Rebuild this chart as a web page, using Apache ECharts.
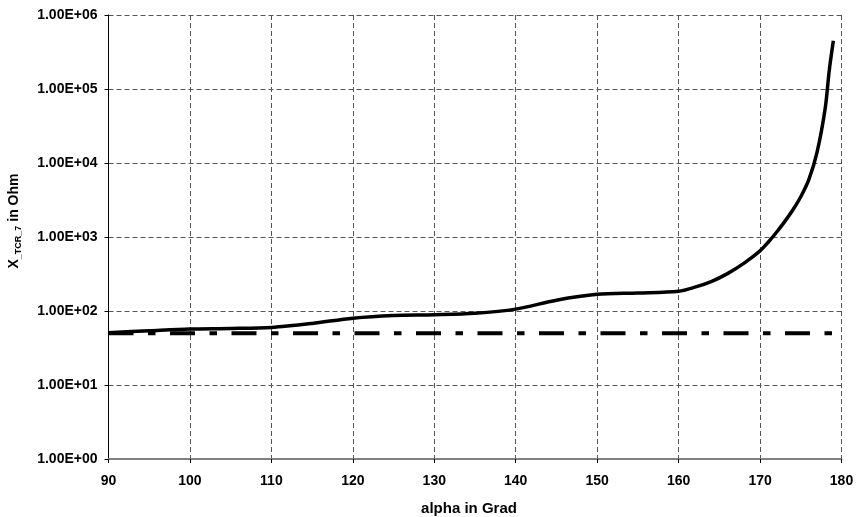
<!DOCTYPE html>
<html>
<head>
<meta charset="utf-8">
<script src="https://cdn.jsdelivr.net/npm/echarts@6/dist/echarts.min.js"></script>
<style>
html,body{margin:0;padding:0;background:#fff;}
#chart{width:858px;height:517px;}
</style>
</head>
<body>
<div id="chart"></div>
<script>
// alpha in degrees
const alpha = [90, 95, 100, 105, 110, 115, 120, 125, 130, 135, 140, 145, 150, 155, 160, 162, 164, 166, 168, 170, 171, 172, 173, 174, 175, 176, 177, 178, 178.5, 179];
// X_TCR_7 in Ohm
const xtcr = [51, 54, 57, 58, 60, 68, 80, 87, 89, 93, 106, 140, 168, 175, 185, 210, 250, 320, 440, 650, 850, 1150, 1600, 2300, 3500, 6000, 14000, 55000, 180000, 450000];
// reference (dash-dot) line
const refAlpha = [90, 179];
const refValue = [50, 50];
const yTickLabels = ['1.00E+00', '1.00E+01', '1.00E+02', '1.00E+03', '1.00E+04', '1.00E+05', '1.00E+06'];
const xTitle = 'alpha in Grad';

const FONT = '"Liberation Sans", Arial, sans-serif';
const chart = echarts.init(document.getElementById('chart'), null, {renderer: 'canvas'});
chart.setOption({
  animation: false,
  backgroundColor: '#fff',
  grid: {left: 108.5, right: 16.5, top: 15, bottom: 58, containLabel: false},
  xAxis: {
    type: 'value', min: 90, max: 180, interval: 10,
    axisLine: {show: true, onZero: false, lineStyle: {color: '#808080', width: 2}},
    axisTick: {show: true, length: 4, lineStyle: {color: '#000'}},
    axisLabel: {margin: 15, fontFamily: FONT, fontWeight: 'bold', fontSize: 14, color: '#000'},
    splitLine: {show: true, lineStyle: {color: '#555', type: [5, 3], width: 1}}
  },
  yAxis: {
    type: 'log', logBase: 10, min: 1, max: 1000000,
    axisLine: {show: true, lineStyle: {color: '#000', width: 1}},
    axisTick: {show: true, length: 4, lineStyle: {color: '#000'}},
    axisLabel: {
      margin: 11, fontFamily: FONT, fontWeight: 'bold', fontSize: 14, color: '#000',
      formatter: function (v) { return yTickLabels[Math.round(Math.log10(v))]; }
    },
    splitLine: {show: true, lineStyle: {color: '#555', type: [5, 3], width: 1}},
    minorTick: {show: false}
  },
  graphic: [{
    type: 'text', x: 14, y: 221, rotation: Math.PI / 2,
    style: {
      text: '{a|X}{b|_TCR_7}{a| in Ohm}',
      align: 'center', verticalAlign: 'middle',
      rich: {
        a: {fontFamily: FONT, fontWeight: 'bold', fontSize: 14, fill: '#000', lineHeight: 18},
        b: {fontFamily: FONT, fontWeight: 'bold', fontSize: 9, fill: '#000', verticalAlign: 'bottom', lineHeight: 14}
      }
    }
  }, {
    type: 'text', x: 469, y: 509,
    style: {
      text: xTitle, align: 'center', verticalAlign: 'middle',
      fontFamily: FONT, fontWeight: 'bold', fontSize: 15, fill: '#000'
    }
  }],
  series: [
    {
      type: 'line', data: refAlpha.map((a, i) => [a, refValue[i]]),
      symbol: 'none', lineStyle: {color: '#000', width: 4, type: [25, 14.5, 7.5, 14.5], cap: 'butt'},
      z: 2
    },
    {
      type: 'line', data: alpha.map((a, i) => [a, xtcr[i]]),
      symbol: 'none', smooth: 0.3, lineStyle: {color: '#000', width: 3.5},
      z: 3
    }
  ]
});
</script>
</body>
</html>
